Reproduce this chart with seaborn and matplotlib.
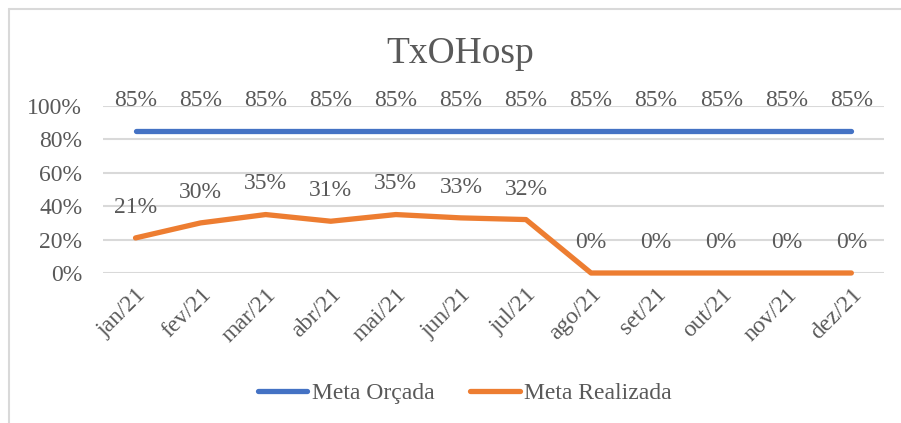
import numpy as np
import pandas as pd
import seaborn as sns
import matplotlib.pyplot as plt
from matplotlib.lines import Line2D

# dados do gráfico
meses = ["jan/21", "fev/21", "mar/21", "abr/21", "mai/21", "jun/21",
         "jul/21", "ago/21", "set/21", "out/21", "nov/21", "dez/21"]
meta_orcada = [0.85] * 12
meta_realizada = [0.21, 0.30, 0.35, 0.31, 0.35, 0.33, 0.32, 0, 0, 0, 0, 0]
series = ["Meta Orçada", "Meta Realizada"]
cores = {"Meta Orçada": "#4472C4", "Meta Realizada": "#ED7D31"}

sns.set_style("white")
plt.rcParams["font.family"] = ["Liberation Serif", "DejaVu Serif"]
cinza = "#595959"

df = pd.DataFrame({
    "mes": meses * 2,
    "pos": list(range(12)) * 2,
    "valor": meta_orcada + meta_realizada,
    "serie": [series[0]] * 12 + [series[1]] * 12,
})

fig = plt.figure(figsize=(9.01, 4.23), dpi=100)
ax = fig.add_axes([0.1143, 0.3546, 0.8667, 0.3948])

sns.lineplot(data=df, x="pos", y="valor", hue="serie", palette=cores,
             linewidth=3.8, ax=ax, legend=False, clip_on=False,
             solid_capstyle="round")

# rótulos de dados
for s in series:
    sub = df[df["serie"] == s]
    for p, v in zip(sub["pos"], sub["valor"]):
        ax.annotate(f"{v:.0%}", (p, v), xytext=(0, 22), textcoords="offset points",
                    ha="center", va="center", fontsize=17, color=cinza)

ax.set_xlim(-0.5, 11.5)
ax.set_ylim(0, 1.0)
ax.set_yticks(np.arange(0, 1.01, 0.2))
ax.set_yticklabels([f"{t:.0%}" for t in np.arange(0, 1.01, 0.2)])
ax.set_xticks(range(12))
ax.set_xticklabels(meses, rotation=45, ha="right", rotation_mode="anchor")
ax.tick_params(axis="both", length=0, labelsize=17, colors=cinza)
ax.tick_params(axis="y", pad=15)
ax.tick_params(axis="x", pad=8)
ax.grid(axis="y", color="#D9D9D9", linewidth=1.5)
ax.set_axisbelow(True)
for sp in ax.spines.values():
    sp.set_visible(False)
ax.set_xlabel("")
ax.set_ylabel("")

fig.text(0.511, 0.874, "TxOHosp", ha="center", va="center", fontsize=27, color=cinza)

handles = [Line2D([0], [0], color=cores[s], linewidth=3.8, solid_capstyle="round")
           for s in series]
fig.legend(handles, series, loc="center", bbox_to_anchor=(0.516, 0.07), ncol=2,
           frameon=False, fontsize=17, labelcolor=cinza, handlelength=2.1,
           handletextpad=0.2, columnspacing=1.5)

# borda do gráfico
fig.add_artist(Line2D([9 / 901, 1], [1 - 9 / 423] * 2, color="#D9D9D9", linewidth=1.5,
                      transform=fig.transFigure))
fig.add_artist(Line2D([9 / 901] * 2, [0, 1 - 9 / 423], color="#D9D9D9", linewidth=1.5,
                      transform=fig.transFigure))

fig.savefig("out.png", dpi=100)
